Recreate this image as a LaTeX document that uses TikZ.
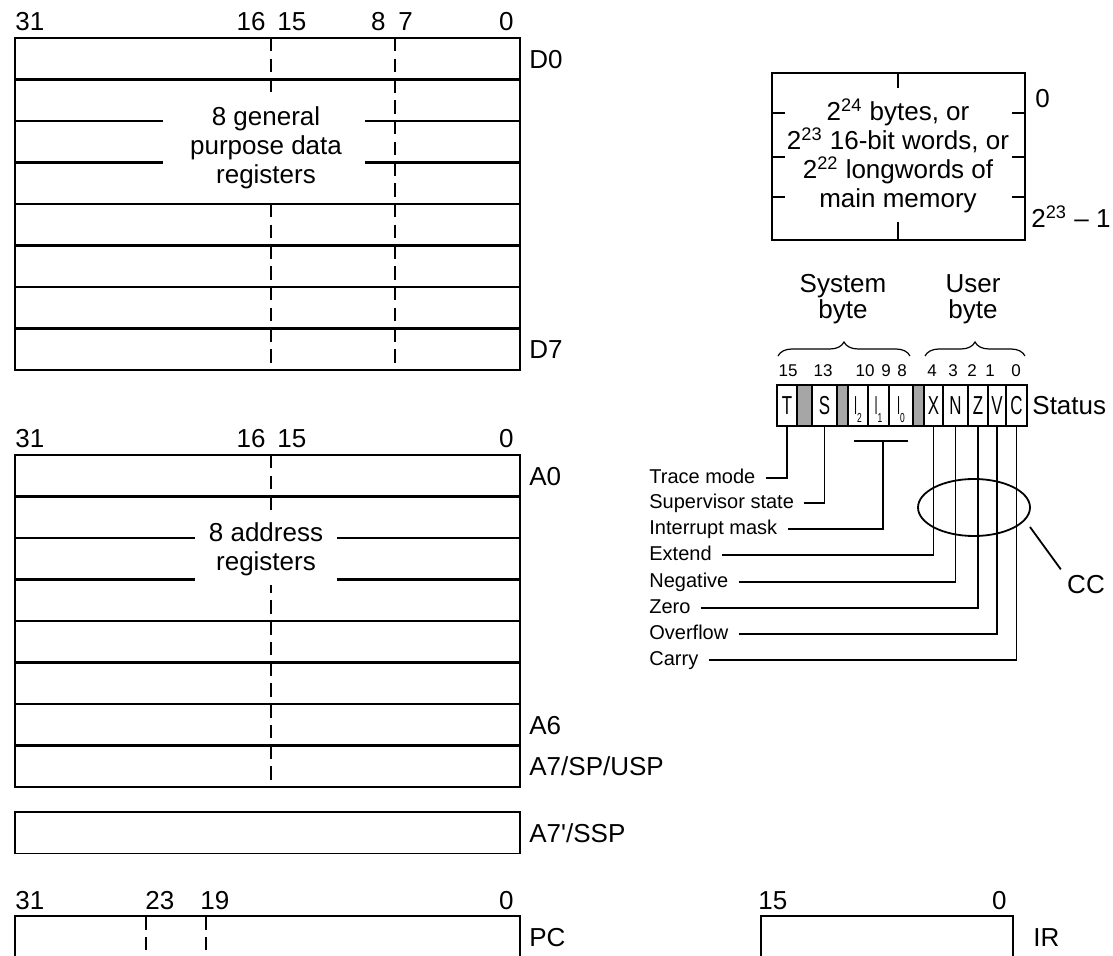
\documentclass[tikz,border=0pt]{standalone}
\usepackage{fontspec}
\setmainfont{Liberation Sans}
\usetikzlibrary{decorations.pathreplacing, shapes.geometric, calc}

\newcommand{\cnd}[1]{\scalebox{0.65}[1]{#1}}
\newcommand{\isub}[1]{\cnd{I}\raisebox{-4pt}{\fontsize{6.5}{7}\selectfont #1}}

\begin{document}
\begin{tikzpicture}[
  x=0.5pt, y=-0.5pt,
  every node/.style={inner sep=0pt, font=\fontsize{13}{14.5}\selectfont},
  reglabel/.style={anchor=west, text height=9.4pt, text depth=0pt},
  bitsmall/.style={anchor=base, font=\fontsize{8.5}{9}\selectfont},
  flag/.style={anchor=west, inner xsep=5pt, font=\fontsize{10}{12}\selectfont,
               text height=5.2pt, text depth=0pt},
  cellfont/.style={text height=9.3pt, text depth=0pt},
  outer/.style={line width=0.8pt},
  sepline/.style={line width=1.2pt},
  bitdash/.style={line width=0.9pt, dash pattern=on 6.75pt off 3.625pt},
  cellbox/.style={line width=0.8pt},
  wire/.style={line width=0.9pt},
  brace/.style={decorate, decoration={brace, amplitude=7pt}, line width=0.6pt},
]
  \useasboundingbox (0,0) rectangle (1113,956);
  \clip (0,0) rectangle (1113,956);

  % data registers
  \draw[outer] (15,38) rectangle (520,370);
  \foreach \k in {1,...,7}
    \draw[sepline] (15,{38+41.5*\k}) -- (520,{38+41.5*\k});
  \foreach \x in {271,395}
    \draw[bitdash] (\x,38) -- (\x,370);
  \fill[white] (163,92) rectangle (365,200);
  \node[align=center] (dtext) at (266,148) {8 general\\purpose data\\registers};
  \node[anchor=base west] (d31) at (15,31) {31};
  \node[anchor=base east] (d16) at (266,31) {16};
  \node[anchor=base west] (d15) at (277,31) {15};
  \node[anchor=base east] (d8)  at (386,31) {8};
  \node[anchor=base west] (d7)  at (398,31) {7};
  \node[anchor=base east] (d0b) at (514,31) {0};
  \node[reglabel] (D0) at (529,58.75) {D0};
  \node[reglabel] (D7) at (529,349.25) {D7};

  % address registers
  \draw[outer] (15,455) rectangle (520,787);
  \foreach \k in {1,...,7}
    \draw[sepline] (15,{455+41.5*\k}) -- (520,{455+41.5*\k});
  \draw[bitdash] (271,455) -- (271,787);
  \fill[white] (195,512) rectangle (337,585);
  \node[align=center] (atext) at (266,549) {8 address\\registers};
  \node[anchor=base west] (a31) at (15,448) {31};
  \node[anchor=base east] (a16) at (266,448) {16};
  \node[anchor=base west] (a15) at (277,448) {15};
  \node[anchor=base east] (a0b) at (514,448) {0};
  \node[reglabel] (A0) at (529,475.75) {A0};
  \node[reglabel] (A6) at (529,724.75) {A6};
  \node[reglabel] (A7) at (529,766.25) {A7/SP/USP};

  % supervisor stack pointer
  \draw[outer] (15,812) rectangle (520,853.5);
  \node[reglabel] (SSP) at (529,832.75) {A7\textquotesingle/SSP};

  % program counter
  \draw[outer] (15,916) rectangle (520,957.5);
  \foreach \x in {146,206}
    \draw[bitdash] (\x,916) -- (\x,957.5);
  \node[anchor=base west] (p31) at (15,909) {31};
  \node[anchor=base west] (p23) at (145,909) {23};
  \node[anchor=base west] (p19) at (200,909) {19};
  \node[anchor=base east] (p0)  at (514,909) {0};
  \node[reglabel] (PC) at (529,936.75) {PC};

  % instruction register
  \draw[outer] (761,916) rectangle (1013,957.5);
  \node[anchor=base west] (i15) at (758,909) {15};
  \node[anchor=base east] (i0)  at (1007,909) {0};
  \node[reglabel] (IR) at (1033,936.75) {IR};

  % main memory
  \draw[line width=1pt] (772,73) rectangle (1025,240);
  \draw[wire] (898,73) -- (898,88);
  \draw[wire] (898,222) -- (898,240);
  \foreach \y in {113,157,197} {
    \draw[wire] (772,\y) -- (785,\y);
    \draw[wire] (1012,\y) -- (1025,\y);
  }
  \node[align=center] (mem) at (898,156)
    {2\textsuperscript{24} bytes, or\\2\textsuperscript{23} 16-bit words, or\\
     2\textsuperscript{22} longwords of\\main memory};
  \node[reglabel] (mlow)  at (1035,98) {0};
  \node[reglabel] (mhigh) at (1031,218) {2\textsuperscript{23} – 1};

  % status register
  \foreach \xa/\xb in {797/812, 837/848, 913/924}
    \draw[cellbox, fill=black!35] (\xa,385) rectangle (\xb,426);
  \foreach \xa/\xb/\lab/\nm in {777/797/T/T, 812/837/S/S, 848/868/{\isub{2}}/I2,
      868/889/{\isub{1}}/I1, 889/913/{\isub{0}}/I0, 924/943/X/X, 943/968/N/N,
      968/988/Z/Z, 988/1006/V/V, 1006/1027/C/C} {
    \draw[cellbox] (\xa,385) rectangle (\xb,426);
    \node[cellfont] (c\nm) at ({(\xa+\xb)/2},405.5) {\cnd{\lab}};
    \coordinate (b\nm) at ({(\xa+\xb)/2},426);
  }
  \foreach \x/\b in {788/15, 823/13, 865/10, 886/9, 902/8, 932/4, 953/3, 972/2, 990/1, 1016/0}
    \node[bitsmall] (n\b) at (\x,377) {\b};
  \node[reglabel] (status) at (1032,405.5) {Status};

  % bytes
  \draw[brace] (778,356) -- (910,356);
  \draw[brace] (925,356) -- (1025,356);
  \node[align=center, font=\fontsize{13}{13}\selectfont] (sysbyte) at (843,299) {System\\byte};
  \node[align=center, font=\fontsize{13}{13}\selectfont] (usrbyte) at (973,299) {User\\byte};

  % flag names
  \node[flag] (trace)    at (639,478) {Trace mode};
  \node[flag] (super)    at (639,503) {Supervisor state};
  \node[flag] (intmask)  at (639,529) {Interrupt mask};
  \node[flag] (extend)   at (639,555) {Extend};
  \node[flag] (negative) at (639,582) {Negative};
  \node[flag] (zero)     at (639,608) {Zero};
  \node[flag] (overflow) at (639,634) {Overflow};
  \node[flag] (carry)    at (639,660) {Carry};

  \coordinate (imaskL) at (854,441);
  \coordinate (imaskR) at (908,441);
  \coordinate (imask)  at (883,441);

  % Wires
  \draw[wire] (trace.east)    -| (bT);
  \draw[wire] (super.east)    -| (bS);
  \draw[wire] (imaskL)        -- (imaskR);
  \draw[wire] (intmask.east)  -| (imask);
  \draw[wire] (extend.east)   -| (bX);
  \draw[wire] (negative.east) -| (bN);
  \draw[wire] (zero.east)     -| (bZ);
  \draw[wire] (overflow.east) -| (bV);
  \draw[wire] (carry.east)    -| (bC);

  % condition codes
  \node[draw, ellipse, line width=0.9pt, minimum width=56pt, minimum height=28.5pt] (ccring) at (974,507.5) {};
  \node[inner sep=3pt] (cc) at (1086,585) {CC};
  \coordinate (ccfrom) at (1030,527);
  \draw[wire] (ccfrom) -- (cc.north west);
\end{tikzpicture}
\end{document}
